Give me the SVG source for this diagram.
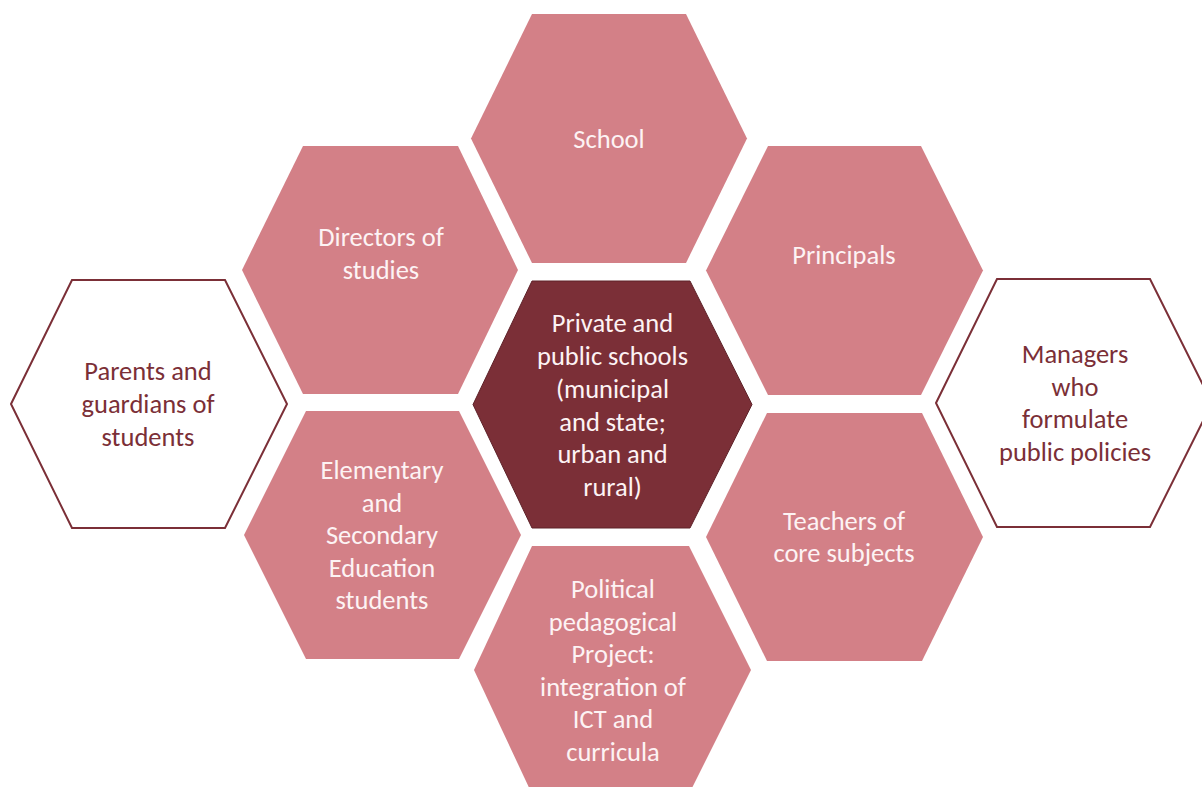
<svg xmlns="http://www.w3.org/2000/svg" width="1202" height="787" viewBox="0 0 1202 787">
<style>
.pink{fill:#D38087;stroke:none}
.dark{fill:#7B2F37;stroke:#5E2229;stroke-width:1}
.outline{fill:#FFFFFF;stroke:#7B2F37;stroke-width:2}
text{font-family:Carlito,Lato,"Liberation Sans",sans-serif;font-size:26.5px;text-anchor:middle}
.lt{fill:#FDF3F4}
.dt{fill:#7B2F37}
</style>
<rect width="1202" height="787" fill="#FFFFFF"/>
<g id="connectors"></g>
<g id="school">
<polygon class="pink" points="471,138.5 532,14 686,14 747,138.5 686,263 532,263"/>
<text class="lt" x="609" y="147.5">School</text>
</g>
<g id="directors">
<polygon class="pink" points="242,270 303,146 458,146 518,270 458,394 303,394"/>
<text class="lt" x="381" y="246">Directors of</text>
<text class="lt" x="381" y="278.5">studies</text>
</g>
<g id="principals">
<polygon class="pink" points="706,270.5 768,146 921,146 983,270.5 921,395 768,395"/>
<text class="lt" x="844" y="264">Principals</text>
</g>
<g id="parents">
<polygon class="outline" points="11,404 72,280 225,280 287,404 225,528 72,528"/>
<text class="dt" x="148" y="380">Parents and</text>
<text class="dt" x="148" y="412.8">guardians of</text>
<text class="dt" x="148" y="445.5">students</text>
</g>
<g id="center">
<polygon class="dark" points="473,404.5 532,281 690,281 752,404.5 690,528 532,528"/>
<text class="lt" x="612.5" y="332.3">Private and</text>
<text class="lt" x="612.5" y="365">public schools</text>
<text class="lt" x="612.5" y="397.8">(municipal</text>
<text class="lt" x="612.5" y="430.6">and state;</text>
<text class="lt" x="612.5" y="463.4">urban and</text>
<text class="lt" x="612.5" y="496.2">rural)</text>
</g>
<g id="managers">
<polygon class="outline" points="936,403 997,279 1150,279 1212,403 1150,527 997,527"/>
<text class="dt" x="1075" y="362.7">Managers</text>
<text class="dt" x="1075" y="395.5">who</text>
<text class="dt" x="1075" y="428.3">formulate</text>
<text class="dt" x="1075" y="461.1">public policies</text>
</g>
<g id="elementary">
<polygon class="pink" points="244,535 306,411 459,411 521,535 459,659 306,659"/>
<text class="lt" x="382" y="479">Elementary</text>
<text class="lt" x="382" y="511.7">and</text>
<text class="lt" x="382" y="544">Secondary</text>
<text class="lt" x="382" y="576.7">Education</text>
<text class="lt" x="382" y="609">students</text>
</g>
<g id="teachers">
<polygon class="pink" points="706,537 767,413 922,413 983,537 922,661 767,661"/>
<text class="lt" x="844" y="529.5">Teachers of</text>
<text class="lt" x="844" y="562.3">core subjects</text>
</g>
<g id="political">
<polygon class="pink" points="474,670 532,546 689,546 751,670 689,794 532,794"/>
<text class="lt" x="613" y="598.3">Political</text>
<text class="lt" x="613" y="630.5">pedagogical</text>
<text class="lt" x="613" y="663.3">Project:</text>
<text class="lt" x="613" y="695.8">integration of</text>
<text class="lt" x="613" y="728.3">ICT and</text>
<text class="lt" x="613" y="760.5">curricula</text>
</g>
</svg>
